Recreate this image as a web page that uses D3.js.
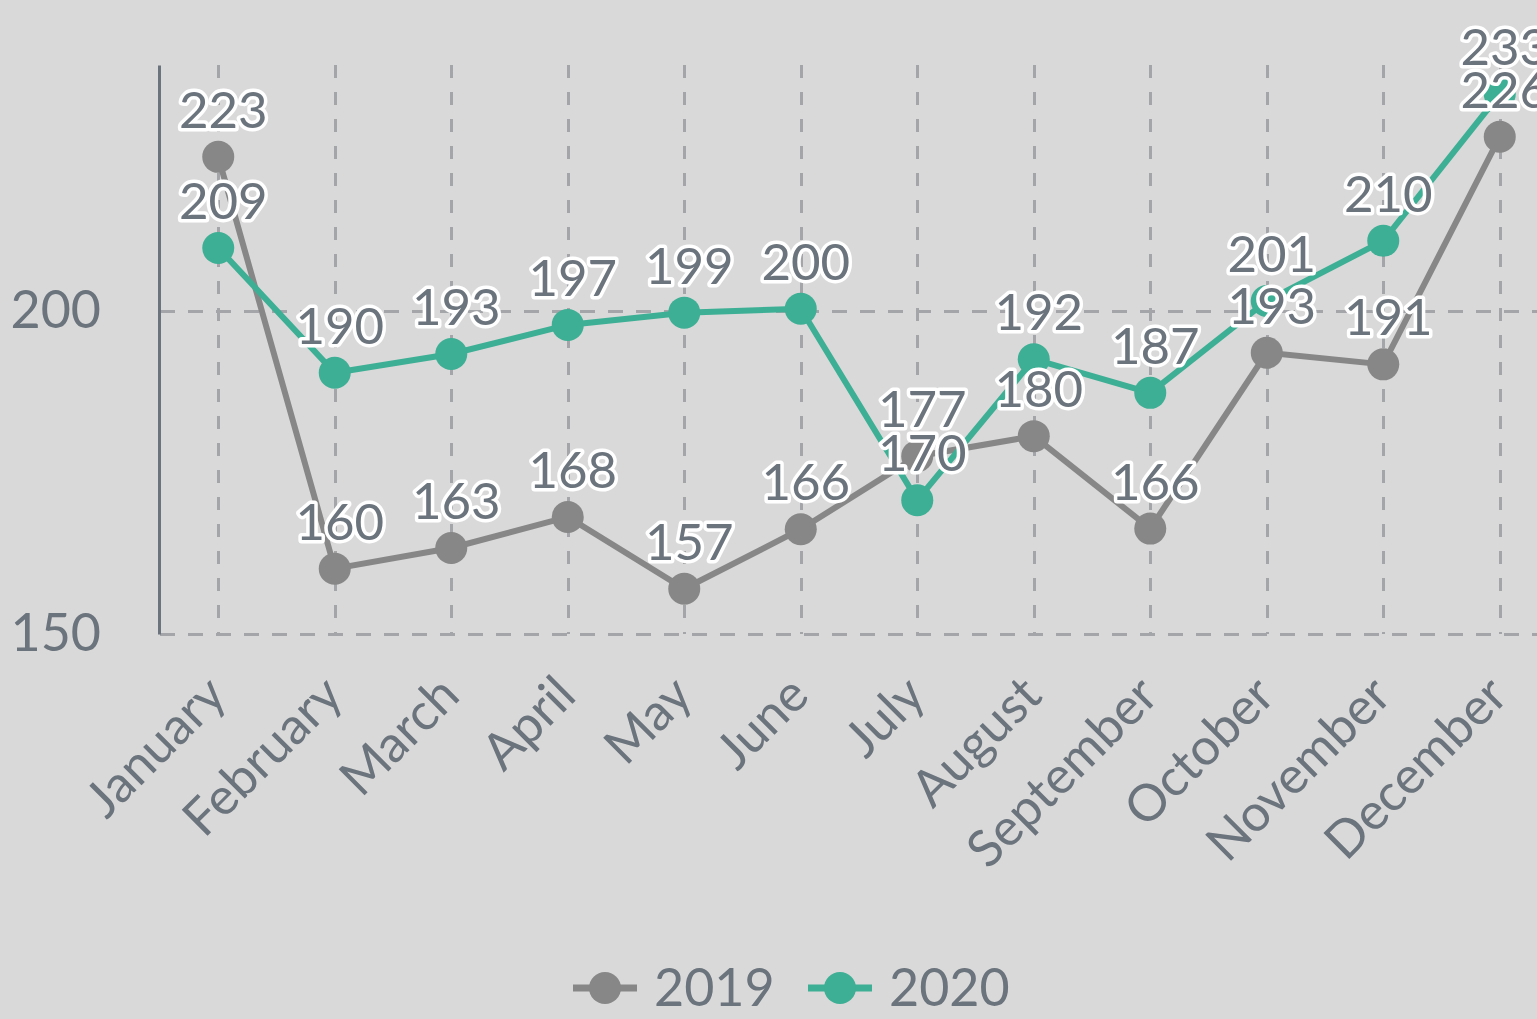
<!DOCTYPE html>
<html>
<head>
<meta charset="utf-8">
<script src="https://cdn.jsdelivr.net/npm/d3@7"></script>
<style>
  body { margin: 0; background: #d9d9d9; }
  text { font-family: Lato, "Open Sans", sans-serif; }
</style>
</head>
<body>
<script>
// data
var months = ["January", "February", "March", "April", "May", "June", "July",
    "August", "September", "October", "November", "December"];
var series2019 = [223.8, 160.1, 163.3, 168.1, 157.0, 166.2, 177.5, 180.6, 166.3, 193.5, 191.7, 226.9];
var series2020 = [209.7, 190.4, 193.3, 197.8, 199.7, 200.3, 170.7, 192.5, 187.3, 201.5, 210.8, 233.5];
var yTicks = [150, 200];
var seriesNames = ["2019", "2020"];
var colors = ["#878787", "#3daf94"];

var width = 1537, height = 1019;
var textColor = "#6b737c", gridColor = "#a3a5a9";

var svg = d3.select("body")
    .append("svg")
    .attr("width", width)
    .attr("height", height);

svg.append("rect")
    .attr("width", width)
    .attr("height", height)
    .attr("fill", "#d9d9d9");

// scales
var x = d3.scalePoint()
    .domain(months)
    .range([160, 1558])
    .padding(0.5);

var y = d3.scaleLinear()
    .domain([150, 238])
    .range([634, 65]);

// vertical grid lines
svg.append("g")
    .selectAll("line")
    .data(months)
    .enter()
    .append("line")
    .attr("x1", function(d) { return Math.round(x(d)) + 0.5; })
    .attr("x2", function(d) { return Math.round(x(d)) + 0.5; })
    .attr("y1", y(238))
    .attr("y2", y(150))
    .attr("stroke", gridColor)
    .attr("stroke-width", 3)
    .attr("stroke-dasharray", "13,14");

// horizontal grid lines
svg.append("g")
    .selectAll("line")
    .data(yTicks)
    .enter()
    .append("line")
    .attr("x1", 160)
    .attr("x2", width)
    .attr("y1", function(d) { return Math.round(y(d)) + 0.5; })
    .attr("y2", function(d) { return Math.round(y(d)) + 0.5; })
    .attr("stroke", gridColor)
    .attr("stroke-width", 3)
    .attr("stroke-dasharray", "15,13");

// y axis
var yAxis = svg.append("g")
    .attr("transform", "translate(159,0)")
    .call(d3.axisLeft(y).tickValues(yTicks).tickSize(0).tickPadding(58));
yAxis.select(".domain").attr("stroke", textColor).attr("stroke-width", 3);
yAxis.selectAll("text")
    .attr("fill", textColor)
    .attr("font-size", 52)
    .attr("font-family", "Lato");

// x axis labels
var xAxis = svg.append("g")
    .attr("transform", "translate(0,634)")
    .call(d3.axisBottom(x).tickSize(0));
xAxis.select(".domain").remove();
xAxis.selectAll("text")
    .attr("fill", textColor)
    .attr("font-size", 51)
    .attr("font-family", "Lato")
    .attr("text-anchor", "end")
    .attr("dy", 0)
    .attr("y", 0)
    .attr("transform", "translate(10,64) rotate(-45)");

// lines and dots
var allSeries = [series2019, series2020];
var line = d3.line()
    .x(function(d, i) { return x(months[i]); })
    .y(function(d) { return y(d); });

allSeries.forEach(function(s, k) {
    svg.append("path")
        .datum(s)
        .attr("fill", "none")
        .attr("stroke", colors[k])
        .attr("stroke-width", 6)
        .attr("d", line);
    svg.append("g")
        .selectAll("circle")
        .data(s)
        .enter()
        .append("circle")
        .attr("cx", function(d, i) { return x(months[i]); })
        .attr("cy", function(d) { return y(d); })
        .attr("r", 16)
        .attr("fill", colors[k]);
});

// data labels, drawn top to bottom so lower ones sit on top
var labels = [];
allSeries.forEach(function(s) {
    s.forEach(function(v, i) { labels.push({ m: months[i], v: v }); });
});
labels.sort(function(a, b) { return b.v - a.v; });

svg.append("g")
    .selectAll("text")
    .data(labels)
    .enter()
    .append("text")
    .attr("x", function(d) { return x(d.m) + 5; })
    .attr("y", function(d) { return y(d.v) - 29; })
    .attr("text-anchor", "middle")
    .attr("font-size", 51)
    .attr("fill", textColor)
    .attr("stroke", "#ffffff")
    .attr("stroke-width", 7)
    .attr("stroke-linejoin", "round")
    .attr("paint-order", "stroke")
    .text(function(d) { return Math.floor(d.v); });

// legend
var legend = svg.append("g")
    .selectAll("g")
    .data(seriesNames)
    .enter()
    .append("g")
    .attr("transform", function(d, i) { return "translate(" + (573 + i * 235) + ",988)"; });
legend.append("line")
    .attr("x1", 0).attr("x2", 64)
    .attr("stroke", function(d, i) { return colors[i]; })
    .attr("stroke-width", 7);
legend.append("circle")
    .attr("cx", 32)
    .attr("r", 16)
    .attr("fill", function(d, i) { return colors[i]; });
legend.append("text")
    .attr("x", 81)
    .attr("y", 18)
    .attr("font-size", 52)
    .attr("fill", textColor)
    .text(function(d) { return d; });
</script>
</body>
</html>
